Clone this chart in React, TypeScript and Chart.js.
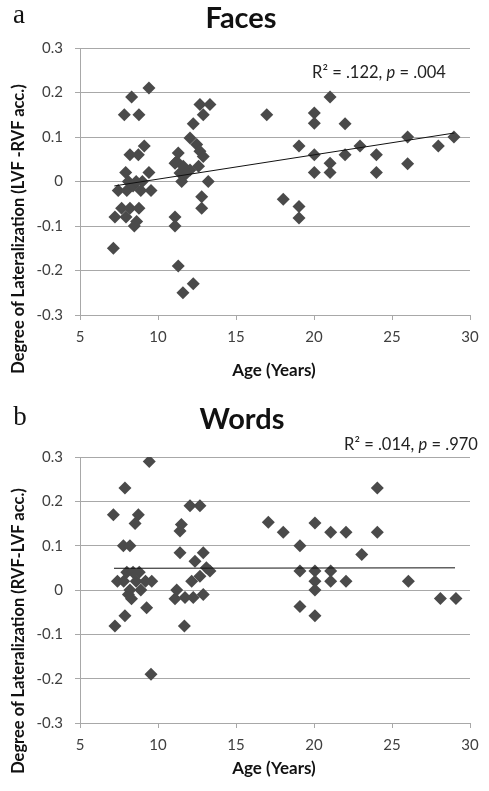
import React, { useEffect, useRef } from "react";
import { Chart, registerables } from "chart.js";

Chart.register(...registerables);

// ---------- data ----------
const xTicks = [5, 10, 15, 20, 25, 30];
const yTicks = [-0.3, -0.2, -0.1, 0, 0.1, 0.2, 0.3];
const yTickLabels = ["-0.3", "-0.2", "-0.1", "0", "0.1", "0.2", "0.3"];

const facesAge = [
  7.14, 7.24, 7.45, 7.67, 7.84, 7.93, 7.95, 8.0, 8.1, 8.2, 8.31, 8.2, 8.4, 8.48, 8.6, 8.74, 8.78, 8.63,
  8.78, 8.9, 9.12, 9.0, 9.42, 9.42, 9.55,
  11.09, 11.09, 11.3, 11.6, 12.26, 11.2, 11.3, 11.41, 11.62, 11.73, 11.52, 12.05, 12.05, 12.26, 12.48,
  12.69, 12.69, 12.6, 12.9, 12.9, 12.8, 12.8, 13.22, 13.33, 11.09,
  16.97, 18.03, 19.04, 19.04, 19.04, 20.02, 20.02, 20.02, 20.02, 21.03, 21.03, 21.03, 21.99, 21.99,
  22.95, 24.0, 24.0, 26.0, 26.0, 27.97, 28.97,
];
const facesVal = [
  -0.15, -0.08, -0.02, -0.06, 0.15, 0.02, -0.08, -0.02, 0.0, 0.06, 0.19, -0.06, -0.01, -0.1, 0.0, 0.06, 0.15, -0.09,
  -0.06, -0.02, 0.08, 0.0, 0.21, 0.02, -0.02,
  -0.08, -0.1, -0.19, -0.25, -0.23, 0.045, 0.064, 0.019, 0.034, 0.015, 0.0, 0.098, 0.026, 0.13, 0.083,
  0.068, 0.173, 0.034, 0.15, 0.056, -0.034, -0.06, 0.0, 0.173, 0.041,
  0.15, -0.04, 0.08, -0.056, -0.082, 0.154, 0.131, 0.06, 0.02, 0.19, 0.041, 0.02, 0.13, 0.06,
  0.08, 0.06, 0.02, 0.1, 0.04, 0.08, 0.1,
];
const facesTrendAge = [7.2, 29.0];
const facesTrendVal = [-0.01, 0.109];

const wordsAge = [
  7.14, 7.88, 8.74, 8.53, 7.78, 8.2, 9.44, 9.27, 7.88, 7.24, 9.55,
  7.4, 7.8, 8.0, 8.2, 8.4, 8.3, 8.6, 8.8, 8.9, 9.2, 9.6, 8.1,
  12.05, 12.69, 11.5, 11.41, 11.41, 12.9, 12.37, 13.1, 13.33, 12.69, 11.69,
  11.2, 11.09, 11.73, 12.26, 12.9, 12.16,
  17.07, 18.03, 19.1, 19.1, 19.1, 20.06, 20.06, 20.06, 20.06, 20.06, 21.07, 21.07, 21.07, 22.05, 22.05,
  23.06, 24.06, 24.06, 26.05, 28.1, 29.1,
];
const wordsVal = [
  0.17, 0.23, 0.17, 0.15, 0.1, 0.1, 0.29, -0.04, -0.058, -0.081, -0.19,
  0.02, 0.02, 0.04, 0.0, 0.04, -0.02, 0.02, 0.04, 0.0, 0.02, 0.02, -0.01,
  0.19, 0.19, 0.148, 0.133, 0.084, 0.084, 0.065, 0.05, 0.043, 0.031, -0.081,
  0.0, -0.02, -0.017, -0.017, -0.01, 0.02,
  0.153, 0.13, 0.1, 0.043, -0.037, 0.151, 0.043, 0.02, 0.0, -0.058, 0.13, 0.043, 0.02, 0.13, 0.02,
  0.08, 0.23, 0.13, 0.02, -0.019, -0.019,
];
const wordsTrendAge = [7.18, 29.04];
const wordsTrendVal = [0.049, 0.05];

// ---------- styling ----------
const GRID = "#a8a8a8";
const MARK = "#4a4a4a";
const TICK_COLOR = "#404040";
const FONT = "Lato, 'Open Sans', sans-serif";

function buildConfig(
  ages: number[],
  vals: number[],
  tAge: number[],
  tVal: number[],
  padTop: number,
  padBottom: number,
  xPad: number
): any {
  return {
    type: "scatter",
    data: {
      datasets: [
        {
          type: "line",
          data: tAge.map((x, i) => ({ x, y: tVal[i] })),
          borderColor: "#111111",
          borderWidth: 1,
          pointRadius: 0,
          fill: false,
          order: 0,
        },
        {
          type: "scatter",
          data: ages.map((x, i) => ({ x, y: vals[i] })),
          pointStyle: "rectRot",
          pointRadius: 6.5,
          pointHoverRadius: 6.5,
          backgroundColor: MARK,
          borderColor: MARK,
          borderWidth: 0,
          order: 1,
        },
      ],
    },
    options: {
      responsive: false,
      animation: false,
      devicePixelRatio: 1,
      events: [],
      layout: { padding: { top: padTop, right: 19, bottom: padBottom, left: 0 } },
      plugins: {
        legend: { display: false },
        tooltip: { enabled: false },
        title: { display: false },
      },
      scales: {
        x: {
          type: "linear",
          min: 5,
          max: 30,
          afterBuildTicks: (s: any) => {
            s.ticks = xTicks.map((v) => ({ value: v }));
          },
          afterFit: (s: any) => {
            s.height = 40;
          },
          grid: { drawOnChartArea: false, drawTicks: true, tickLength: 5, color: GRID },
          border: { display: true, color: GRID, width: 1 },
          ticks: {
            color: TICK_COLOR,
            font: { family: FONT, size: 15 },
            padding: xPad,
            maxRotation: 0,
            autoSkip: false,
          },
        },
        y: {
          type: "linear",
          min: -0.3,
          max: 0.3,
          afterBuildTicks: (s: any) => {
            s.ticks = yTicks.map((v) => ({ value: v }));
          },
          afterFit: (s: any) => {
            s.width = 80;
          },
          grid: { drawOnChartArea: true, drawTicks: true, tickLength: 5, color: GRID },
          border: { display: true, color: GRID, width: 1 },
          ticks: {
            color: TICK_COLOR,
            font: { family: FONT, size: 15 },
            padding: 12,
            autoSkip: false,
            callback: (_v: any, i: number) => yTickLabels[i],
          },
        },
      },
    },
  };
}

function Panel(props: {
  top: number;
  height: number;
  ages: number[];
  vals: number[];
  tAge: number[];
  tVal: number[];
  padTop: number;
  padBottom: number;
  xPad: number;
}) {
  const ref = useRef<HTMLCanvasElement | null>(null);
  useEffect(() => {
    if (!ref.current) return;
    const chart = new Chart(
      ref.current,
      buildConfig(props.ages, props.vals, props.tAge, props.tVal, props.padTop, props.padBottom, props.xPad)
    );
    return () => chart.destroy();
  }, []);
  return (
    <canvas
      ref={ref}
      width={489}
      height={props.height}
      style={{ position: "absolute", left: 0, top: props.top, width: 489, height: props.height, display: "block" }}
    />
  );
}

// text box of fixed size centred on (x, y)
const box = (x: number, y: number, w: number, h: number, extra: React.CSSProperties = {}): React.CSSProperties => ({
  position: "absolute",
  left: x - w / 2,
  top: y - h / 2,
  width: w,
  height: h,
  lineHeight: `${h}px`,
  textAlign: "center",
  whiteSpace: "nowrap",
  ...extra,
});

export default function App() {
  return (
    <div
      style={{
        position: "absolute",
        left: 0,
        top: 0,
        width: 489,
        height: 791,
        background: "#ffffff",
        overflow: "hidden",
        fontFamily: FONT,
        color: "#111",
      }}
    >
      <Panel top={0} height={395} ages={facesAge} vals={facesVal} tAge={facesTrendAge} tVal={facesTrendVal} padTop={48} padBottom={40} xPad={8} />
      <Panel top={395} height={396} ages={wordsAge} vals={wordsVal} tAge={wordsTrendAge} tVal={wordsTrendVal} padTop={62} padBottom={28} xPad={8} />

      {/* panel a */}
      <div style={box(19, 14, 30, 30, { fontFamily: "'Liberation Serif', serif", fontSize: 27 })}>a</div>
      <div style={box(241, 17, 200, 34, { fontWeight: 700, fontSize: 29 })}>Faces</div>
      <div style={box(379, 72, 200, 20, { fontSize: 16.5, color: "#222" })}>
        R² = .122, <i>p</i> = .004
      </div>
      <div style={box(18, 229, 400, 20, { fontWeight: 700, fontSize: 16.5, transform: "rotate(-90deg)" })}>
        Degree of Lateralization (LVF -RVF acc.)
      </div>
      <div style={box(274, 370, 200, 20, { fontWeight: 700, fontSize: 17 })}>Age (Years)</div>

      {/* panel b */}
      <div style={box(20, 416, 30, 30, { fontFamily: "'Liberation Serif', serif", fontSize: 27 })}>b</div>
      <div style={box(242, 418, 200, 34, { fontWeight: 700, fontSize: 29 })}>Words</div>
      <div style={box(411, 444, 200, 20, { fontSize: 16.5, color: "#222" })}>
        R² = .014, <i>p</i> = .970
      </div>
      <div style={box(18, 631, 400, 20, { fontWeight: 700, fontSize: 16.5, transform: "rotate(-90deg)" })}>
        Degree of Lateralization (RVF-LVF acc.)
      </div>
      <div style={box(274, 768, 200, 20, { fontWeight: 700, fontSize: 17 })}>Age (Years)</div>
    </div>
  );
}
